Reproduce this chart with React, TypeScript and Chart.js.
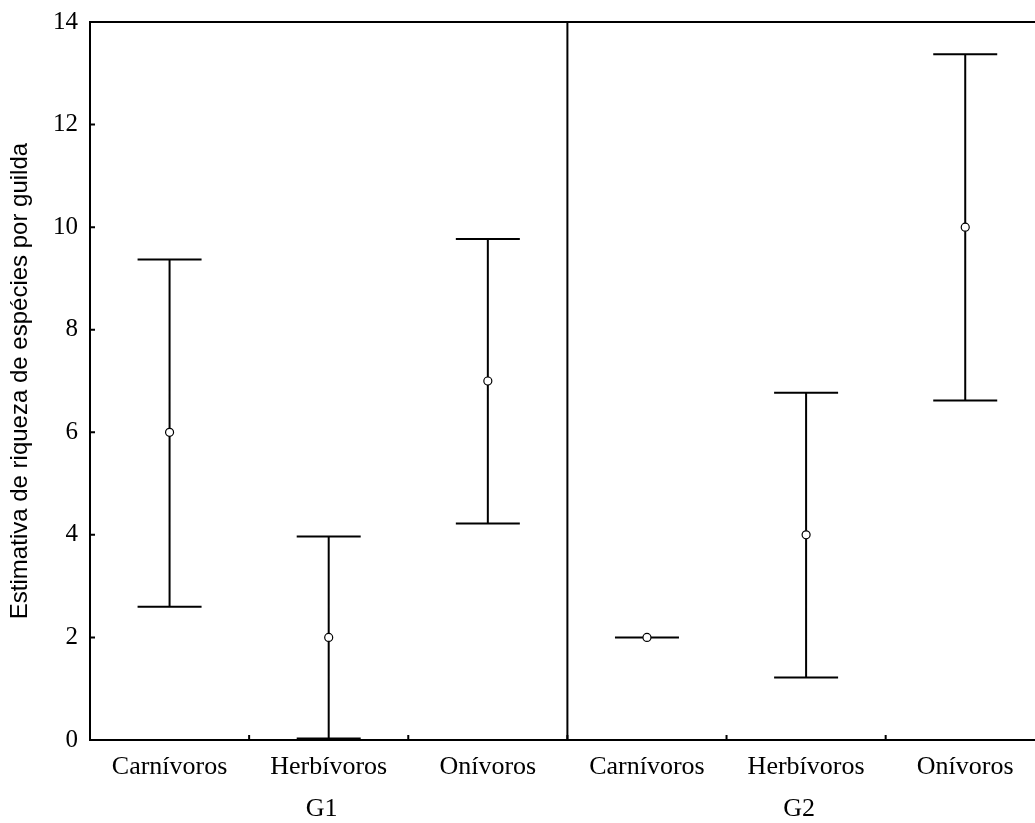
import React, { useEffect, useRef } from "react";
import { Chart, registerables } from "chart.js";

Chart.register(...registerables);

const categories = ["Carnívoros", "Herbívoros", "Onívoros", "Carnívoros", "Herbívoros", "Onívoros"];
const groups = ["G1", "G2"];
const groupMiddleIndex = [1, 4];
const means = [6, 2, 7, 2, 4, 10];
const upper = [9.37, 3.97, 9.77, 2, 6.77, 13.37];
const lower = [2.6, 0.03, 4.22, 2, 1.22, 6.62];
const yTicks = [0, 2, 4, 6, 8, 10, 12, 14];
const yTitle = "Estimativa de riqueza de espécies por guilda";

const SERIF = "'Liberation Serif', 'Times New Roman', serif";
const SANS = "'Liberation Sans', Arial, sans-serif";

const framePlugin = {
  id: "frame",
  beforeDatasetsDraw(chart: any) {
    const { ctx, chartArea, scales } = chart;
    const { left, right, top, bottom } = chartArea;
    const x = scales.x;
    const y = scales.y;
    ctx.save();
    ctx.strokeStyle = "#000";
    ctx.lineWidth = 2;
    ctx.lineCap = "butt";
    ctx.strokeRect(left, top, right - left, bottom - top);
    // divider between groups
    const dx = (x.getPixelForValue(2) + x.getPixelForValue(3)) / 2;
    ctx.beginPath();
    ctx.moveTo(dx, top);
    ctx.lineTo(dx, bottom);
    ctx.stroke();
    // inner y ticks
    ctx.beginPath();
    yTicks.forEach((v) => {
      const py = y.getPixelForValue(v);
      ctx.moveTo(left, py);
      ctx.lineTo(left + 5, py);
    });
    // inner x ticks at category boundaries
    for (let i = 1; i < categories.length; i++) {
      const bx = (x.getPixelForValue(i - 1) + x.getPixelForValue(i)) / 2;
      ctx.moveTo(bx, bottom);
      ctx.lineTo(bx, bottom - 5);
    }
    ctx.stroke();
    // error bars
    const cap = 32;
    ctx.beginPath();
    for (let i = 0; i < categories.length; i++) {
      const px = x.getPixelForValue(i);
      const pu = y.getPixelForValue(upper[i]);
      const pl = y.getPixelForValue(lower[i]);
      ctx.moveTo(px, pu);
      ctx.lineTo(px, pl);
      ctx.moveTo(px - cap, pu);
      ctx.lineTo(px + cap, pu);
      ctx.moveTo(px - cap, pl);
      ctx.lineTo(px + cap, pl);
    }
    ctx.stroke();
    ctx.restore();
  },
  afterDraw(chart: any) {
    const { ctx, scales } = chart;
    const x = scales.x;
    ctx.save();
    ctx.fillStyle = "#000";
    ctx.font = `26px ${SERIF}`;
    ctx.textAlign = "center";
    ctx.textBaseline = "alphabetic";
    groups.forEach((g, gi) => {
      const cx = x.getPixelForValue(groupMiddleIndex[gi]) - 7;
      ctx.fillText(g, cx, 816);
    });
    ctx.restore();
  },
};

export default function App() {
  const ref = useRef<HTMLCanvasElement | null>(null);
  useEffect(() => {
    if (!ref.current) return;
    const chart = new Chart(ref.current, {
      type: "line",
      data: {
        labels: categories,
        datasets: [
          {
            data: means,
            showLine: false,
            pointRadius: 4,
            pointHoverRadius: 4,
            pointBackgroundColor: "#fff",
            pointBorderColor: "#000",
            pointBorderWidth: 1.2,
          },
        ],
      },
      options: {
        animation: false,
        responsive: false,
        devicePixelRatio: 1,
        events: [],
        layout: { padding: { left: 0, top: 22, right: 3, bottom: 0 } },
        plugins: {
          legend: { display: false },
          tooltip: { enabled: false },
          title: { display: false },
        },
        scales: {
          x: {
            type: "category",
            offset: true,
            grid: { display: false, drawTicks: false },
            border: { display: false },
            ticks: {
              color: "#000",
              font: { family: SERIF, size: 26 },
              padding: 12,
              maxRotation: 0,
              autoSkip: false,
            },
            afterFit: (s: any) => {
              s.height = 83;
              s.paddingLeft = 0;
              s.paddingRight = 0;
            },
          },
          y: {
            min: 0,
            max: 14,
            grid: { display: false, drawTicks: false },
            border: { display: false },
            afterBuildTicks: (s: any) => {
              s.ticks = yTicks.map((v) => ({ value: v }));
            },
            ticks: {
              color: "#000",
              font: { family: SERIF, size: 25 },
              padding: 12,
            },
            title: {
              display: true,
              text: yTitle,
              color: "#000",
              font: { family: SANS, size: 24 },
              padding: { top: 6, bottom: 0 },
            },
            afterFit: (s: any) => {
              s.width = 90;
              s.paddingTop = 0;
              s.paddingBottom = 0;
            },
          },
        },
      },
      plugins: [framePlugin],
    });
    return () => chart.destroy();
  }, []);
  return (
    <div
      style={{
        position: "fixed",
        left: 0,
        top: 0,
        width: 1035,
        height: 823,
        overflow: "hidden",
        background: "#fff",
      }}
    >
      <canvas ref={ref} width={1050} height={823} style={{ display: "block" }} />
    </div>
  );
}
